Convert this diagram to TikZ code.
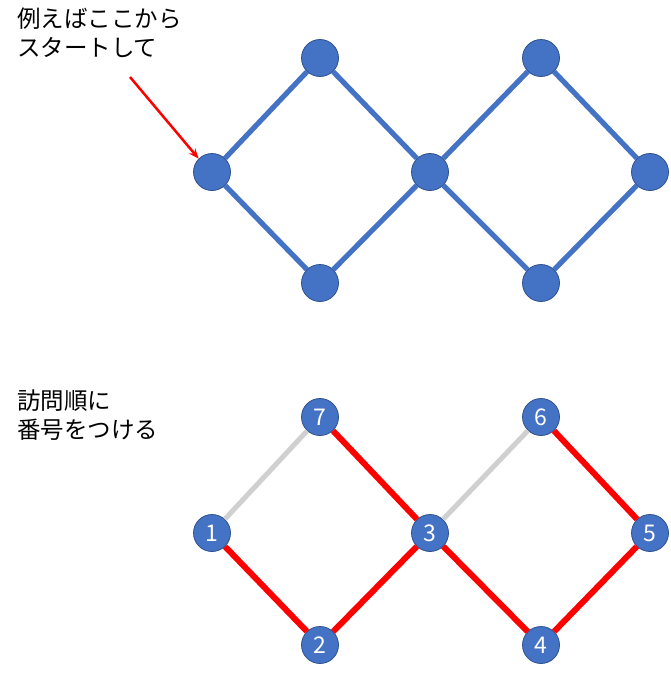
\documentclass[tikz,border=0pt]{standalone}
\usepackage{fontspec}
\setmainfont{Noto Sans CJK JP}
\usepackage{xcolor}
\usetikzlibrary{arrows.meta}
\definecolor{nodeblue}{HTML}{4472C4}
\definecolor{nodeedge}{HTML}{2F528F}
\definecolor{visited}{HTML}{FF0000}
\definecolor{unused}{HTML}{D0D0D0}

\begin{document}
\begin{tikzpicture}[
    x=1pt, y=-1pt,
    vert/.style={circle, draw=nodeedge, line width=0.8pt, fill=nodeblue, minimum size=37pt, inner sep=0pt, text=white, font=\fontsize{23}{23}\selectfont},
    link/.style={line width=5.2pt, color=nodeblue},
    tree/.style={line width=6pt, color=visited},
    back/.style={line width=5pt, color=unused},
    note/.style={anchor=north west, align=left, inner sep=0pt, font=\fontsize{23.5}{29}\selectfont},
    arr/.style={-{Stealth[length=10pt, width=8pt]}, line width=2.5pt, color=visited}
]
\useasboundingbox (0,0) rectangle (671,675);

% top graph
\node[vert] (a1) at (212,172) {};
\node[vert] (a7) at (320,58) {};
\node[vert] (a2) at (320,283) {};
\node[vert] (a3) at (430,172) {};
\node[vert] (a6) at (541,58) {};
\node[vert] (a4) at (541,283) {};
\node[vert] (a5) at (650,172) {};

\draw[link] (a1) -- (a7);
\draw[link] (a1) -- (a2);
\draw[link] (a7) -- (a3);
\draw[link] (a2) -- (a3);
\draw[link] (a3) -- (a6);
\draw[link] (a3) -- (a4);
\draw[link] (a6) -- (a5);
\draw[link] (a4) -- (a5);

\node[note] (start) at (17,8) {例えばここから\\スタートして};
\coordinate (tail) at (130,77);
\draw[arr] (tail) -- (a1.north west);

% bottom graph
\node[vert] (b1) at (212,533) {1};
\node[vert] (b7) at (320,417) {7};
\node[vert] (b2) at (320,645) {2};
\node[vert] (b3) at (430,533) {3};
\node[vert] (b6) at (541,417) {6};
\node[vert] (b4) at (541,645) {4};
\node[vert] (b5) at (650,533) {5};

\draw[back] (b1) -- (b7);
\draw[tree] (b1) -- (b2);
\draw[tree] (b7) -- (b3);
\draw[tree] (b2) -- (b3);
\draw[back] (b3) -- (b6);
\draw[tree] (b3) -- (b4);
\draw[tree] (b6) -- (b5);
\draw[tree] (b4) -- (b5);

\node[note] (order) at (17,390) {訪問順に\\番号をつける};

\end{tikzpicture}
\end{document}
